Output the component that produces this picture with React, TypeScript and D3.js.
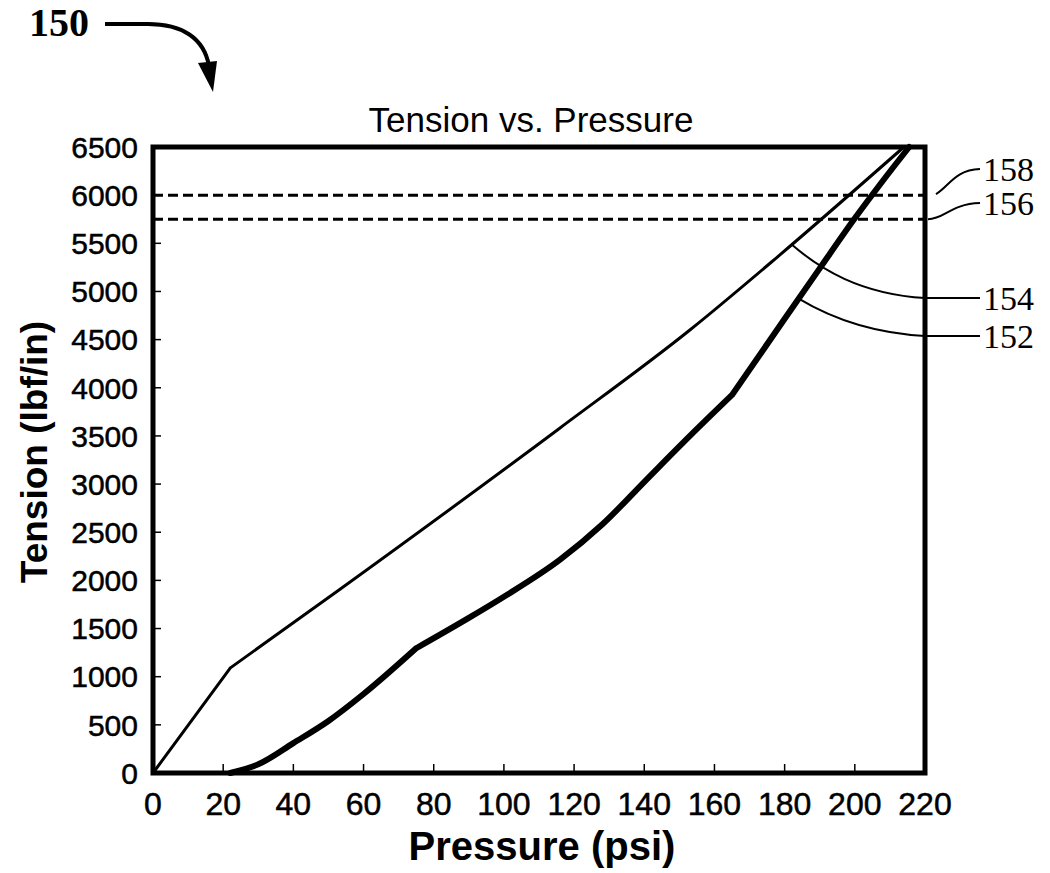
import React from "react";
import * as d3 from "d3";

const pressureTicks = [0, 20, 40, 60, 80, 100, 120, 140, 160, 180, 200, 220];
const tensionTicks = [0, 500, 1000, 1500, 2000, 2500, 3000, 3500, 4000, 4500, 5000, 5500, 6000, 6500];

// Curve 154 (thin line), with its knee
const curve154Pressure = [0, 22, 53, 116, 153, 178, 214];
const curve154Tension = [0, 1090, 1900, 3583, 4600, 5360, 6500];
const curve154Breaks = [22];

// Curve 152 (thick line), with its two kinks
const curve152Pressure = [22, 30, 40, 50, 60, 75, 90, 100, 116, 128, 141, 153, 165, 178, 190, 200, 208, 215.5];
const curve152Tension = [0, 90, 310, 540, 820, 1295, 1610, 1830, 2215, 2580, 3060, 3500, 3925, 4610, 5240, 5760, 6150, 6500];
const curve152Breaks = [75, 165];

// Dashed threshold lines
const thresholdValues = [6000, 5750];
const thresholdLabels = ["158", "156"];

// Curve annotations
const curveLabels = ["154", "152"];
const curveAnchorPressure = [182, 184];

const W = 1050;
const H = 873;
const M = { left: 153, right: 925, top: 147, bottom: 773 };

const sans = "'Liberation Sans', Arial, Helvetica, sans-serif";
const serif = "'Liberation Serif', 'Times New Roman', serif";

type Pt = [number, number];

function splitAt(ps: number[], ts: number[], breaks: number[]): Pt[][] {
  const pts: Pt[] = ps.map((p, i) => [p, ts[i]]);
  const segs: Pt[][] = [];
  let cur: Pt[] = [];
  pts.forEach((pt) => {
    cur.push(pt);
    if (breaks.includes(pt[0])) {
      segs.push(cur);
      cur = [pt];
    }
  });
  if (cur.length > 1) segs.push(cur);
  return segs;
}

export default function App() {
  const x = d3.scaleLinear().domain([0, 220]).range([M.left, M.right]);
  const y = d3.scaleLinear().domain([0, 6500]).range([M.bottom, M.top]);

  const line = d3
    .line<Pt>()
    .x((d) => x(d[0]))
    .y((d) => y(d[1]))
    .curve(d3.curveMonotoneX);

  const pathOf = (segs: Pt[][]) => segs.map((s) => line(s) || "").join(" ");

  const thinPath = pathOf(splitAt(curve154Pressure, curve154Tension, curve154Breaks));
  const thickPath = pathOf(splitAt(curve152Pressure, curve152Tension, curve152Breaks));

  const interp = (ps: number[], ts: number[], p: number) => d3.scaleLinear().domain(ps).range(ts)(p);

  const a154x = x(curveAnchorPressure[0]);
  const a154y = y(interp(curve154Pressure, curve154Tension, curveAnchorPressure[0]));
  const a152x = x(curveAnchorPressure[1]);
  const a152y = y(interp(curve152Pressure, curve152Tension, curveAnchorPressure[1]));

  const rx = M.right;
  const labelX = rx + 58;
  const y158 = 169;
  const y156 = 203;
  const y154 = 298;
  const y152 = 336;
  const labelSize = 34;

  return (
    <svg
      width={W}
      height={H}
      viewBox={`0 0 ${W} ${H}`}
      style={{ position: "absolute", left: 0, top: 0, background: "#fff" }}
    >
      <rect x={0} y={0} width={W} height={H} fill="#fff" />

      {/* 150 figure label with arrow */}
      <text x={29} y={36} fontFamily={serif} fontWeight="bold" fontSize={40} fill="#000">
        150
      </text>
      <path d="M105,24 L148,24 C182,24 204,38 209,66" fill="none" stroke="#000" strokeWidth={4} />
      <path d="M198,63 L217,61 L213,92 Z" fill="#000" />

      {/* Title */}
      <text x={531} y={132} textAnchor="middle" fontFamily={sans} fontSize={35} fill="#000">
        Tension vs. Pressure
      </text>

      {/* Dashed thresholds */}
      {thresholdValues.map((v, i) => (
        <line
          key={"th" + i}
          x1={M.left}
          x2={M.right}
          y1={y(v)}
          y2={y(v)}
          stroke="#000"
          strokeWidth={3}
          strokeDasharray="10,5"
        />
      ))}

      {/* Curves */}
      <path d={thinPath} fill="none" stroke="#000" strokeWidth={3} strokeLinejoin="round" strokeLinecap="round" />
      <path d={thickPath} fill="none" stroke="#000" strokeWidth={6} strokeLinejoin="round" strokeLinecap="round" />

      {/* Ticks */}
      {tensionTicks.map((t) => (
        <g key={"yt" + t}>
          <line x1={M.left} x2={M.left + 8} y1={y(t)} y2={y(t)} stroke="#000" strokeWidth={1.5} />
          <text
            x={M.left - 15}
            y={y(t)}
            dy="0.36em"
            textAnchor="end"
            fontFamily={sans}
            fontSize={30}
            fill="#000"
            stroke="#000"
            strokeWidth={0.5}
          >
            {t}
          </text>
        </g>
      ))}
      {pressureTicks.map((p) => (
        <g key={"xt" + p}>
          <line x1={x(p)} x2={x(p)} y1={M.bottom} y2={M.bottom - 9} stroke="#000" strokeWidth={1.5} />
          <text
            x={x(p)}
            y={815}
            textAnchor="middle"
            fontFamily={sans}
            fontSize={32}
            fill="#000"
            stroke="#000"
            strokeWidth={0.5}
          >
            {p}
          </text>
        </g>
      ))}

      {/* Frame */}
      <rect
        x={M.left}
        y={M.top}
        width={M.right - M.left}
        height={M.bottom - M.top}
        fill="none"
        stroke="#000"
        strokeWidth={5}
      />

      {/* Axis titles */}
      <text x={542} y={860} textAnchor="middle" fontFamily={sans} fontWeight="bold" fontSize={40} fill="#000">
        Pressure (psi)
      </text>
      <text
        transform="translate(47,452) rotate(-90)"
        textAnchor="middle"
        fontFamily={sans}
        fontWeight="bold"
        fontSize={37}
        fill="#000"
      >
        Tension (lbf/in)
      </text>

      {/* Leader lines */}
      <path
        d={`M${rx + 11},${y(thresholdValues[0]) - 1} C${rx + 25},${y(thresholdValues[0]) - 10} ${rx + 30},${y158 + 1} ${rx + 55},${y158}`}
        fill="none"
        stroke="#000"
        strokeWidth={2}
      />
      <path
        d={`M${rx + 3},${y(thresholdValues[1])} C${rx + 20},${y(thresholdValues[1])} ${rx + 25},${y156 + 1} ${rx + 55},${y156}`}
        fill="none"
        stroke="#000"
        strokeWidth={2}
      />
      <path
        d={`M${a154x},${a154y} C${a154x + 28},${a154y + 24} ${a154x + 68},${y154 - 4} ${rx},${y154} L${rx + 55},${y154}`}
        fill="none"
        stroke="#000"
        strokeWidth={2}
      />
      <path
        d={`M${a152x},${a152y} C${a152x + 30},${a152y + 18} ${a152x + 70},${y152 - 3} ${rx},${y152} L${rx + 55},${y152}`}
        fill="none"
        stroke="#000"
        strokeWidth={2}
      />

      {/* Annotation labels */}
      <text x={labelX} y={y158 + 12} fontFamily={serif} fontSize={labelSize} fill="#000">
        {thresholdLabels[0]}
      </text>
      <text x={labelX} y={y156 + 12} fontFamily={serif} fontSize={labelSize} fill="#000">
        {thresholdLabels[1]}
      </text>
      <text x={labelX} y={y154 + 12} fontFamily={serif} fontSize={labelSize} fill="#000">
        {curveLabels[0]}
      </text>
      <text x={labelX} y={y152 + 12} fontFamily={serif} fontSize={labelSize} fill="#000">
        {curveLabels[1]}
      </text>
    </svg>
  );
}
